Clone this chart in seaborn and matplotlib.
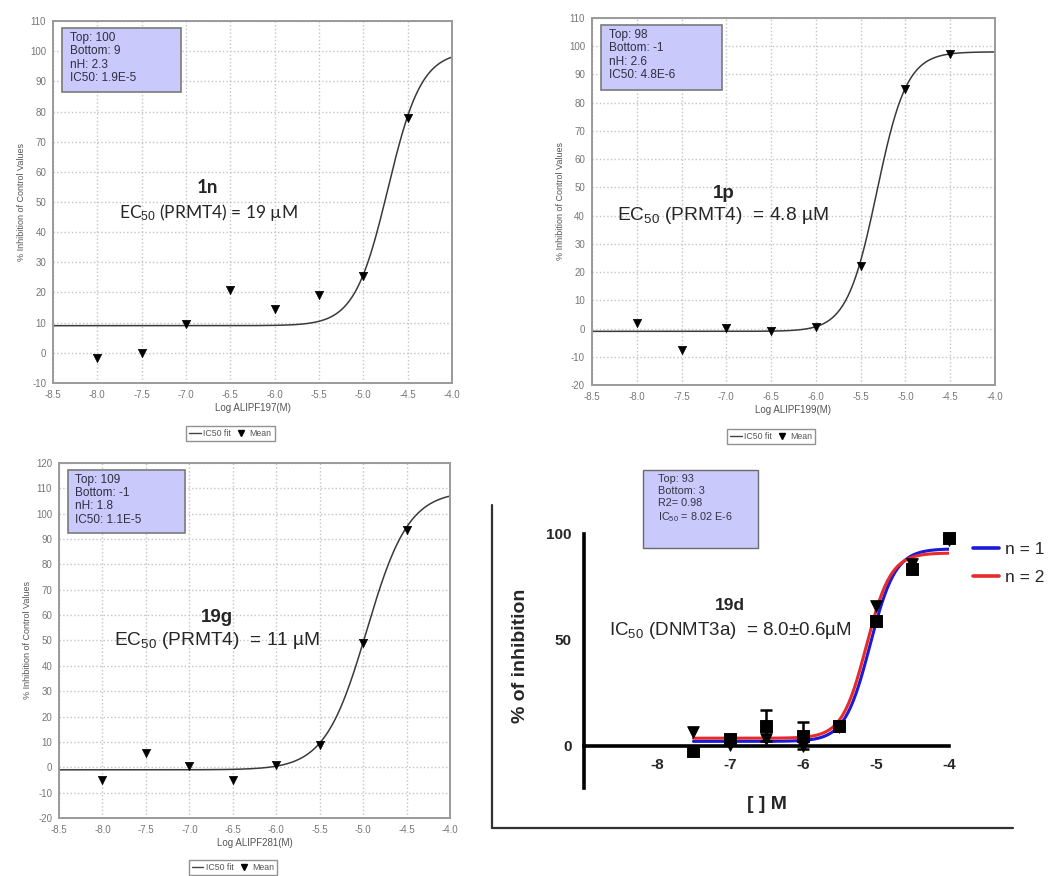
import matplotlib.pyplot as plt
import matplotlib.lines as mlines
import numpy as np
import pandas as pd
import seaborn as sns
from matplotlib.patches import Rectangle

# log concentration of the PRMT4 dose points (M)
LOG_CONC = [-8.0, -7.5, -7.0, -6.5, -6.0, -5.5, -5.0, -4.5]

# mean % inhibition
MEAN_1N = [-1.6, -0.2, 9.6, 20.9, 14.4, 19.1, 25.6, 78.0]
MEAN_1P = [2.1, -7.6, 0.1, -0.8, 0.4, 22.1, 85.0, 97.2]
MEAN_19G = [-4.9, 5.7, 0.7, -4.9, 0.9, 8.9, 49.0, 93.4]

# fit parameters printed in the boxes: top, bottom, nH, IC50
FIT_1N = (100, 9, 2.3, 1.9e-5)
FIT_1P = (98, -1, 2.6, 4.8e-6)
FIT_19G = (109, -1, 1.8, 1.1e-5)

# DNMT3a assay for 19d, two runs
LOG_CONC_19D = [-7.5, -7.0, -6.5, -6.0, -5.5, -5.0, -4.5, -4.0]
INHIB_RUN1 = [-2.4, 3.3, 9.5, 4.7, 9.4, 59.0, 83.5, 98.0]
ERR_RUN1 = [1.5, 1.5, 7.5, 6.3, 1.0, 2.0, 1.5, 1.0]
INHIB_RUN2 = [6.6, 0.5, 3.3, 0.0, 9.0, 66.0, 86.0, 97.0]
FIT_RUN1 = (93, 2, 2.5, 8.3e-6)
FIT_RUN2 = (91, 3.5, 2.6, 7.4e-6)

sns.set_style("white")
plt.rcParams['font.family'] = ['Liberation Sans', 'DejaVu Sans']
plt.rcParams['axes.unicode_minus'] = False
plt.rcParams['mathtext.fontset'] = 'custom'
plt.rcParams['mathtext.rm'] = 'Liberation Sans'
plt.rcParams['mathtext.it'] = 'Liberation Sans:italic'
plt.rcParams['mathtext.bf'] = 'Liberation Sans:bold'

BOX_COLOR = '#c9c9fb'


def hill(x, fit):
    top, bottom, nh, ic50 = fit
    return bottom + (top - bottom) / (1 + 10 ** (nh * (np.log10(ic50) - x)))


def ic50_panel(ax, means, fit, ylim, xlabel, name, ec50, name_xy, ec50_xy, font, size):
    top, bottom, nh, ic50 = fit
    xfit = np.linspace(-8.5, -4.0, 300)
    curve = pd.DataFrame({'x': xfit, 'y': hill(xfit, fit)})
    sns.lineplot(data=curve, x='x', y='y', ax=ax, color='#3a3a3a', lw=1.1)
    pts = pd.DataFrame({'x': LOG_CONC, 'y': means})
    sns.scatterplot(data=pts, x='x', y='y', ax=ax, marker='v', color='black',
                    s=36, edgecolor='black', zorder=3)

    ax.set_xlim(-8.5, -4.0)
    ax.set_ylim(*ylim)
    ax.set_xticks(np.arange(-8.5, -3.99, 0.5))
    ax.set_xticklabels(['%.1f' % v for v in np.arange(-8.5, -3.99, 0.5)])
    ax.set_yticks(np.arange(ylim[0], ylim[1] + 1, 10))
    ax.grid(True, color='#c4c4c4', ls=':', lw=1.0)
    for s in ax.spines.values():
        s.set_color('#9a9a9a')
        s.set_linewidth(1.4)
    ax.tick_params(colors='#8a8a8a', labelsize=7, length=3, width=0.8,
                   labelcolor='#777777', pad=2)
    ax.set_xlabel(xlabel, fontsize=7, color='#555555', labelpad=2)
    ax.set_ylabel('% Inhibition of Control Values', fontsize=6.5,
                  color='#555555', labelpad=3)

    ax.add_patch(Rectangle((0.022, 0.803), 0.3, 0.178, transform=ax.transAxes,
                           facecolor=BOX_COLOR, edgecolor='#7a7a7a', lw=1.2, zorder=4))
    info = 'Top: %d\nBottom: %d\nnH: %s\nIC50: %s' % (
        top, bottom, nh, ('%.1E' % ic50).replace('E-0', 'E-'))
    ax.text(0.042, 0.97, info, transform=ax.transAxes, va='top', ha='left',
            fontsize=8.5, color='#2e2e40', zorder=5, linespacing=1.15)

    ax.text(*name_xy, name, transform=ax.transAxes, ha='center', va='center',
            fontsize=13.5, fontweight='bold', family=font)
    ax.text(*ec50_xy, ec50, transform=ax.transAxes, ha='center', va='center',
            fontsize=size, family=font)

    handles = [mlines.Line2D([], [], color='#444444', lw=1, label='IC50 fit'),
               mlines.Line2D([], [], color='black', marker='v', ls='',
                             markersize=5, label='Mean')]
    leg = ax.legend(handles=handles, loc='center', bbox_to_anchor=(0.445, -0.14),
                    ncol=2, fontsize=6.3, frameon=True, fancybox=False,
                    handlelength=1.3, handletextpad=0.3, columnspacing=0.5,
                    borderpad=0.35)
    leg.get_frame().set_edgecolor('#777777')
    leg.get_frame().set_linewidth(1.0)
    for t in leg.get_texts():
        t.set_color('#555555')


fig = plt.figure(figsize=(10.56, 8.76), dpi=100)
ax1 = fig.add_axes([0.0502, 0.5628, 0.3778, 0.4132])
ax2 = fig.add_axes([0.5606, 0.5605, 0.3816, 0.4190])
ax3 = fig.add_axes([0.0559, 0.0662, 0.3703, 0.4053])
ax4 = fig.add_axes([0.5530, 0.1005, 0.3456, 0.2900])

ic50_panel(ax1, MEAN_1N, FIT_1N, (-10, 110), 'Log ALIPF197(M)', '1n',
           'EC$_{50}$ (PRMT4) = 19 µM', (0.386, 0.539), (0.39, 0.472), 'Lato', 12.5)
ic50_panel(ax2, MEAN_1P, FIT_1P, (-20, 110), 'Log ALIPF199(M)', '1p',
           'EC$_{50}$ (PRMT4)  = 4.8 µM', (0.328, 0.523), (0.325, 0.463),
           'Liberation Sans', 13.8)
ic50_panel(ax3, MEAN_19G, FIT_19G, (-20, 120), 'Log ALIPF281(M)', '19g',
           'EC$_{50}$ (PRMT4)  = 11 µM', (0.404, 0.566), (0.404, 0.501),
           'Liberation Sans', 13.8)

# --- DNMT3a panel (Prism style) ---
xfit = np.linspace(-7.5, -4.0, 300)
curves = pd.concat([
    pd.DataFrame({'x': xfit, 'y': hill(xfit, FIT_RUN1), 'run': 'n = 1'}),
    pd.DataFrame({'x': xfit, 'y': hill(xfit, FIT_RUN2), 'run': 'n = 2'}),
])
sns.lineplot(data=curves, x='x', y='y', hue='run', ax=ax4,
             palette={'n = 1': '#1a1ad8', 'n = 2': '#e82a2a'}, lw=2.2)
ax4.errorbar(LOG_CONC_19D, INHIB_RUN1, yerr=ERR_RUN1, fmt='none', ecolor='black',
             elinewidth=1.8, capsize=4, capthick=1.8, clip_on=False, zorder=3)
sns.scatterplot(x=LOG_CONC_19D, y=INHIB_RUN1, ax=ax4, marker='s', color='black',
                s=70, edgecolor='black', zorder=4, clip_on=False)
sns.scatterplot(x=LOG_CONC_19D, y=INHIB_RUN2, ax=ax4, marker='v', color='black',
                s=70, edgecolor='black', zorder=4, clip_on=False)

ax4.set_xlim(-9, -4)
ax4.set_ylim(-20, 100)
ax4.set_xticks([-8, -7, -6, -5, -4])
ax4.set_xticklabels(['-8', '-7', '-6', '-5', '-4'])
ax4.set_yticks([0, 50, 100])
ax4.spines['top'].set_visible(False)
ax4.spines['right'].set_visible(False)
ax4.spines['bottom'].set_position(('data', 0))
ax4.spines['bottom'].set_bounds(-9, -4)
for s in ('left', 'bottom'):
    ax4.spines[s].set_linewidth(2.6)
    ax4.spines[s].set_color('black')
ax4.tick_params(axis='both', length=6, width=2.2, direction='out',
                labelsize=11, pad=3)
for lab in ax4.get_xticklabels() + ax4.get_yticklabels():
    lab.set_fontweight('bold')
ax4.set_xlabel('[ ] M', fontsize=14, fontweight='bold')
ax4.xaxis.set_label_coords(0.5, -0.03)
ax4.set_ylabel('% of inhibition', fontsize=14, fontweight='bold')
ax4.yaxis.set_label_coords(-0.15, 0.52)

leg4 = ax4.legend(loc='upper left', bbox_to_anchor=(973 / 1056, 1 - 542 / 876),
                  bbox_transform=fig.transFigure, frameon=False, fontsize=12.5,
                  handlelength=1.5, handletextpad=0.35, labelspacing=0.75,
                  borderpad=0, borderaxespad=0)
for line in leg4.get_lines():
    line.set_linewidth(2.6)

ax4.text(-7.0, 66, '19d', ha='center', va='center', fontsize=12.5, fontweight='bold')
ax4.text(-7.0, 54.5, 'IC$_{50}$ (DNMT3a)  = 8.0±0.6µM', ha='center', va='center',
         fontsize=13.5)

# info box above the DNMT3a plot
fig.add_artist(Rectangle((643 / 1056, 1 - 548 / 876), 115 / 1056, 78 / 876,
                         transform=fig.transFigure, facecolor=BOX_COLOR,
                         edgecolor='#6a6a6a', lw=1.0))
fig.text(658 / 1056, 1 - 474 / 876,
         'Top: 93\nBottom: 3\nR2= 0.98\nIC$_{50}$ = 8.02 E-6',
         va='top', ha='left', fontsize=7.8, color='#333344', linespacing=1.25)

# L-shaped frame around the DNMT3a panel
fig.add_artist(mlines.Line2D([492 / 1056, 492 / 1056], [1 - 505 / 876, 1 - 828 / 876],
                             color='#333333', lw=1.6))
fig.add_artist(mlines.Line2D([492 / 1056, 1013 / 1056], [1 - 828 / 876, 1 - 828 / 876],
                             color='#333333', lw=1.6))

fig.savefig('out.png', dpi=100)
